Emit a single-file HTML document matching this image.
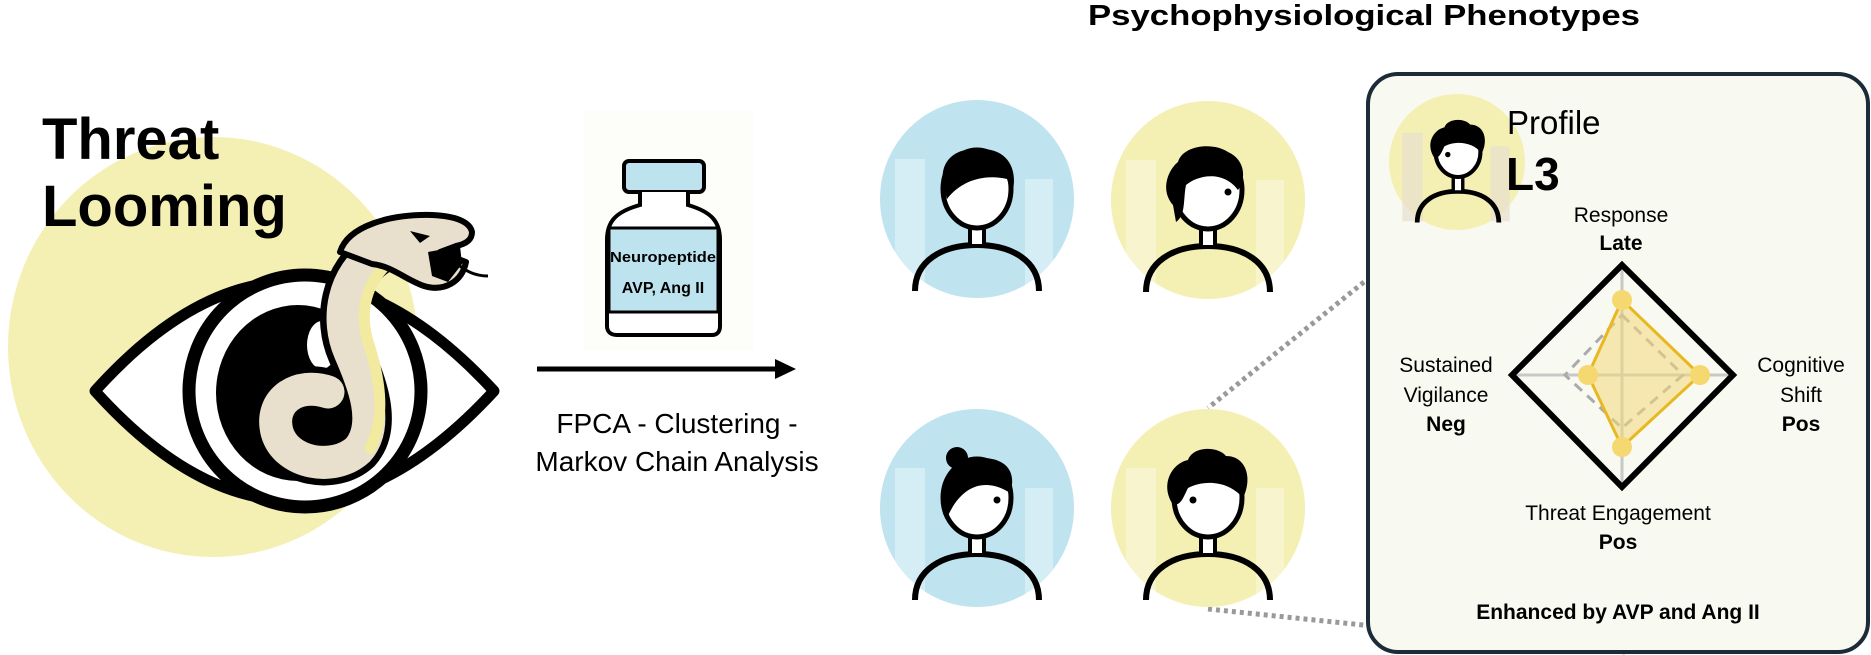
<!DOCTYPE html>
<html><head><meta charset="utf-8"><style>
html,body{margin:0;padding:0;background:#fff}
svg{display:block}
text{font-family:"Liberation Sans",sans-serif}
</style></head><body>
<svg width="1871" height="655" viewBox="0 0 1871 655" xmlns="http://www.w3.org/2000/svg">
<defs>
<g id="person">
  <rect x="-82" y="-40" width="30" height="130" fill="#fff" opacity="0.35"/>
  <rect x="48" y="-20" width="28" height="110" fill="#fff" opacity="0.35"/>
  <path d="M-62,92 C-62,62 -35,46 0,46 C35,46 62,62 62,92" fill="none" stroke="#000" stroke-width="6"/>
  <rect x="-7" y="22" width="14" height="25" fill="#fff" stroke="#000" stroke-width="4"/>
  <ellipse cx="0" cy="-10" rx="34" ry="39" fill="#fff" stroke="#000" stroke-width="5"/>
</g>
</defs>

<!-- left -->
<ellipse cx="213" cy="347" rx="205" ry="210" fill="#f4efb3"/>
<text x="42" y="159" font-size="58" font-weight="bold">Threat</text>
<text x="42" y="226" font-size="58" font-weight="bold">Looming</text>

<path d="M95,391 Q292,172 494,391 Q292,610 95,391 Z" fill="#fff" stroke="#000" stroke-width="11" stroke-linejoin="round"/>
<circle cx="305" cy="391" r="116" fill="#fff" stroke="#000" stroke-width="13"/>
<ellipse cx="298" cy="393" rx="82" ry="88" fill="#000"/>
<ellipse cx="322" cy="345" rx="15" ry="24" fill="#fff"/>
<!-- snake body -->
<path d="M378,252 C342,275 336,320 350,352 C364,384 380,425 358,450 C334,472 286,464 277,432 C269,400 298,382 328,392" fill="none" stroke="#000" stroke-width="46" stroke-linecap="round"/>
<path d="M378,252 C342,275 336,320 350,352 C364,384 380,425 358,450 C334,472 286,464 277,432 C269,400 298,382 328,392" fill="none" stroke="#e8e0cc" stroke-width="33" stroke-linecap="round"/>
<path d="M385,266 C362,290 360,320 370,348 C380,380 386,418 370,448" fill="none" stroke="#f2ea9e" stroke-width="11" stroke-linecap="round"/>
<!-- head -->
<path d="M340,252 C348,226 390,214 432,215 C456,216 470,222 472,232 C472,240 466,244 456,246 L440,252 L466,262 C462,282 444,292 424,286 C406,280 392,266 372,264 Z" fill="#e8e0cc" stroke="#000" stroke-width="6" stroke-linejoin="round"/>
<path d="M428,252 L460,246 L462,264 L448,282 L432,276 Z" fill="#000"/>
<path d="M455,262 C466,272 476,276 488,276" fill="none" stroke="#000" stroke-width="3"/>
<path d="M410,231 L430,236 L420,243 Z" fill="#000"/>

<!-- bottle -->
<rect x="584" y="110" width="170" height="240" fill="#fdfdf9"/>
<rect x="624" y="161" width="80" height="31" rx="5" fill="#bde3ef" stroke="#000" stroke-width="4"/>
<path d="M640,192 L640,205 C615,212 607,222 607,240 L607,326 C607,332 611,335 617,335 L712,335 C717,335 720,332 720,326 L720,240 C720,222 712,212 688,205 L688,192" fill="#fff" stroke="#000" stroke-width="4"/>
<rect x="609" y="228" width="109" height="84" fill="#bde3ef" stroke="#000" stroke-width="3"/>
<text x="663" y="262" font-size="15" font-weight="bold" text-anchor="middle" textLength="106" lengthAdjust="spacingAndGlyphs">Neuropeptide</text>
<text x="663" y="293" font-size="16" font-weight="bold" text-anchor="middle">AVP, Ang II</text>

<!-- arrow -->
<line x1="537" y1="369" x2="778" y2="369" stroke="#000" stroke-width="5"/>
<path d="M775,359 L796,369 L775,379 Z" fill="#000"/>
<text x="677" y="433" font-size="28" text-anchor="middle">FPCA - Clustering -</text>
<text x="677" y="471" font-size="28" text-anchor="middle">Markov Chain Analysis</text>

<!-- right -->
<text x="1364" y="25" font-size="29" font-weight="bold" text-anchor="middle" textLength="552" lengthAdjust="spacingAndGlyphs">Psychophysiological Phenotypes</text>

<line x1="1364" y1="282" x2="1208" y2="408" stroke="#999" stroke-width="5" stroke-dasharray="4,4"/>
<line x1="1208" y1="609" x2="1625" y2="652" stroke="#999" stroke-width="5" stroke-dasharray="4,4"/>

<ellipse cx="977" cy="199" rx="97" ry="99" fill="#bfe3ef"/>
<g transform="translate(977,199)"><use href="#person"/><path d="M-33,-10 C-40,-40 -20,-52 5,-50 C30,-50 42,-30 35,-5 L30,-20 C10,-25 -15,-20 -30,0 Z" fill="#000"/></g>
<ellipse cx="1208" cy="200" rx="97" ry="99" fill="#f4efb3"/>
<g transform="translate(1208,200)"><use href="#person"/><path d="M-35,5 C-48,-10 -40,-30 -30,-38 C-25,-55 5,-58 20,-48 C38,-40 38,-20 30,-10 C15,-30 -10,-25 -22,-15 C-25,0 -22,15 -32,22 Z" fill="#000"/><circle cx="20" cy="-8" r="3.5" fill="#000"/></g>
<ellipse cx="977" cy="508" rx="97" ry="99" fill="#bfe3ef"/>
<g transform="translate(977,508)"><use href="#person"/><path d="M-33,-5 C-38,-35 -20,-50 5,-50 C30,-50 40,-35 33,-15 C10,-30 -15,-25 -30,10 Z" fill="#000"/><circle cx="-20" cy="-50" r="11" fill="#000"/><circle cx="20" cy="-8" r="3.5" fill="#000"/></g>
<ellipse cx="1208" cy="508" rx="97" ry="99" fill="#f4efb3"/>
<g transform="translate(1208,508)"><use href="#person"/><path d="M-36,-5 C-48,-25 -35,-45 -20,-48 C-15,-62 10,-62 18,-52 C38,-52 45,-30 35,-10 C20,-28 -5,-28 -20,-20 C-25,-10 -28,0 -36,-5 Z" fill="#000"/><circle cx="-15" cy="-8" r="3.5" fill="#000"/></g>

<!-- panel -->
<rect x="1368" y="74" width="500" height="578" rx="30" fill="#f8f9f0" stroke="#1c2b38" stroke-width="4"/>
<circle cx="1457" cy="162" r="68" fill="#f4efb3"/>
<g transform="translate(1458,160) scale(0.68)"><rect x="-82" y="-40" width="30" height="130" fill="#e8e0d0" opacity="0.7"/><rect x="48" y="-20" width="28" height="110" fill="#e8e0d0" opacity="0.7"/><path d="M-60,92 C-60,62 -35,46 0,46 C35,46 60,62 60,92" fill="none" stroke="#000" stroke-width="7"/><rect x="-7" y="20" width="14" height="27" fill="#fff" stroke="#000" stroke-width="5"/><ellipse cx="0" cy="-12" rx="33" ry="37" fill="#fff" stroke="#000" stroke-width="6"/><path d="M-36,-5 C-48,-25 -35,-45 -20,-48 C-15,-62 10,-62 18,-52 C38,-52 45,-30 35,-10 C20,-28 -5,-28 -20,-20 C-25,-10 -28,0 -36,-5 Z" fill="#000"/><circle cx="-15" cy="-8" r="4" fill="#000"/></g>
<text x="1507" y="134" font-size="33">Profile</text>
<text x="1506" y="190" font-size="46" font-weight="bold">L3</text>

<line x1="1512" y1="375" x2="1733" y2="375" stroke="#c8c8c8" stroke-width="3"/>
<line x1="1622" y1="265" x2="1622" y2="487" stroke="#c8c8c8" stroke-width="3"/>
<polygon points="1622,315 1683,375 1622,428 1565,375" fill="none" stroke="#aaa" stroke-width="3" stroke-dasharray="10,7"/>
<polygon points="1622,300 1700,375 1622,447 1588,375" fill="#f2d97a" fill-opacity="0.55" stroke="#e8b820" stroke-width="3"/>
<circle cx="1622" cy="300" r="10" fill="#f5d870"/><circle cx="1700" cy="375" r="10" fill="#f5d870"/><circle cx="1622" cy="447" r="10" fill="#f5d870"/><circle cx="1588" cy="375" r="10" fill="#f5d870"/>
<polygon points="1622,265 1733,375 1622,487 1512,375" fill="none" stroke="#000" stroke-width="6"/>

<g font-size="21" text-anchor="middle">
<text x="1621" y="222">Response</text>
<text x="1621" y="250" font-weight="bold">Late</text>
<text x="1446" y="372">Sustained</text>
<text x="1446" y="402">Vigilance</text>
<text x="1446" y="431" font-weight="bold">Neg</text>
<text x="1801" y="372">Cognitive</text>
<text x="1801" y="402">Shift</text>
<text x="1801" y="431" font-weight="bold">Pos</text>
<text x="1618" y="520">Threat Engagement</text>
<text x="1618" y="549" font-weight="bold">Pos</text>
<text x="1618" y="619" font-weight="bold">Enhanced by AVP and Ang II</text>
</g>
</svg>
</body></html>
